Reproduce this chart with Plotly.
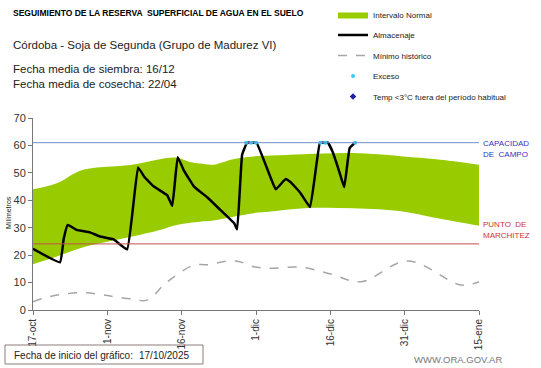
import plotly.graph_objects as go

# Days since 17-oct
band_days = [0, 4.8, 9.5, 13.5, 20, 25.6, 29, 31.7, 33.7, 36.4, 40.4, 44.5, 48, 54.6, 64.6, 74.6, 81.4, 90]
band_upper = [44, 46.2, 50.8, 52, 53, 55, 55.5, 54, 53.4, 53, 55, 56, 56.3, 56.8, 57.2, 56, 55, 53]
band_lower = [16.7, 19.5, 22.5, 24.3, 26.8, 29.2, 31, 31.8, 32.2, 32.6, 34, 35.3, 35.9, 37.1, 37.1, 35.9, 33.5, 30.7]

min_days = [0, 3.4, 9.5, 13.5, 16.2, 20, 23, 27.1, 32.5, 35.2, 39.9, 41.9, 44.5, 48, 54, 60.1, 66.2, 75.6, 86.4, 90]
min_hist = [3.0, 4.9, 6.3, 5.7, 4.9, 4.0, 3.6, 10.3, 16.4, 16.5, 18.0, 17.5, 15.8, 15.2, 15.6, 13.1, 10.3, 17.9, 9.1, 10.3]

alm_days = [0, 5.45, 6.2, 7.0, 8.8, 11.5, 13.5, 16.2, 19.0, 21.2, 22.4, 24.4, 27.1, 28.1, 29.2, 30.4, 32.5, 35.2, 37.8, 40.6, 41.2,
            42.2, 43.2, 44.2, 45.1, 48, 49, 51, 52, 54, 55.9, 57.9, 58.7, 59.5, 60.5, 61.8, 62.8, 63.9, 65]
almacenaje = [22.3, 17.4, 26, 31.0, 29.2, 28.3, 26.8, 25.8, 22.1, 52, 48.7, 45, 41.8, 38, 55.7, 51, 45, 41, 36.5, 31.6, 29.4,
              56.6, 61, 61, 61, 48, 44, 47.8, 46.6, 42.6, 37.5, 61, 61, 61, 57.5, 50.5, 44.8, 59, 61]

exceso_days = [43, 44, 45, 58, 59, 65]
exceso_vals = [61, 61, 61, 61, 61, 61]

capacidad = 61
marchitez = 24.1

tick_vals = [0, 15, 30, 45, 60, 75, 90]
tick_text = ["17-oct", "1-nov", "16-nov", "1-dic", "16-dic", "31-dic", "15-ene"]

W, H = 541, 368
L, R, T, B = 33, 62, 118, 58
PW, PH = W - L - R, H - T - B


def px(x):
    return (x - L) / PW


def py(y):
    return (H - B - y) / PH


green = "rgb(153,204,0)"
fig = go.Figure()
fig.add_trace(go.Scatter(x=band_days, y=band_lower, mode="lines", line=dict(width=0, shape="spline"),
                         showlegend=False, hoverinfo="skip", legendgroup="g0"))
fig.add_trace(go.Scatter(x=band_days, y=band_upper, mode="lines", line=dict(width=0, shape="spline"),
                         fill="tonexty", fillcolor=green, name="Intervalo Normal", legendgroup="g1"))
fig.add_trace(go.Scatter(x=alm_days, y=almacenaje, mode="lines", line=dict(color="black", width=2.5, shape="spline", smoothing=0.3),
                         name="Almacenaje", legendgroup="g2"))
fig.add_trace(go.Scatter(x=min_days, y=min_hist, mode="lines", line=dict(color="#A6A6A6", width=1.5, dash="dash", shape="spline"),
                         name="Mínimo histórico", legendgroup="g3"))
fig.add_trace(go.Scatter(x=exceso_days, y=exceso_vals, mode="markers", marker=dict(color="#33CCFF", size=4),
                         name="Exceso", legendgroup="g4"))
fig.add_trace(go.Scatter(x=[None], y=[None], mode="markers", marker=dict(color="#1F1FA0", size=5, symbol="diamond"),
                         name="Temp <3°C fuera del período habitual", legendgroup="g5"))

fig.add_shape(type="line", xref="x", yref="y", x0=0, x1=90, y0=capacidad, y1=capacidad, line=dict(color="#6F8FC8", width=1))
fig.add_shape(type="line", xref="x", yref="y", x0=0, x1=90, y0=marchitez, y1=marchitez, line=dict(color="#C0504D", width=1))

font = "Arial, Liberation Sans, sans-serif"
ann = [
    dict(x=11, y=13, text="<b>SEGUIMIENTO DE LA RESERVA  SUPERFICIAL DE AGUA EN EL SUELO</b>", size=8.5, color="black"),
    dict(x=11, y=45, text="Córdoba - Soja de Segunda (Grupo de Madurez VI)", size=11.5, color="#222"),
    dict(x=11, y=69, text="Fecha media de siembra: 16/12", size=11.5, color="#222"),
    dict(x=11, y=84, text="Fecha media de cosecha: 22/04", size=11.5, color="#222"),
    dict(x=481, y=143, text="CAPACIDAD", size=8, color="#3333BB"),
    dict(x=481, y=154, text="DE  CAMPO", size=8, color="#3333BB"),
    dict(x=481, y=224, text="PUNTO  DE", size=8, color="#CC3333"),
    dict(x=481, y=235, text="MARCHITEZ", size=8, color="#CC3333"),
    dict(x=12, y=355, text="Fecha de inicio del gráfico:", size=10, color="#222"),
    dict(x=137, y=355, text="17/10/2025", size=10, color="#222"),
    dict(x=412, y=359, text="WWW.ORA.GOV.AR", size=9.5, color="#777"),
]
for a in ann:
    fig.add_annotation(x=px(a["x"]), y=py(a["y"]), xref="paper", yref="paper", xanchor="left", yanchor="middle",
                       text=a["text"], showarrow=False, font=dict(family=font, size=a["size"], color=a["color"]))

fig.add_shape(type="rect", xref="paper", yref="paper", x0=px(5), x1=px(203), y0=py(364), y1=py(345),
              line=dict(color="#8C7B7B", width=1))
fig.add_annotation(x=px(8), y=py(213), xref="paper", yref="paper", text="Milímetros", textangle=-90, showarrow=False,
                   xanchor="center", yanchor="middle", font=dict(family=font, size=7, color="#222"))

fig.update_layout(
    width=W, height=H,
    margin=dict(l=L, r=R, t=T, b=B, autoexpand=False),
    paper_bgcolor="white", plot_bgcolor="white",
    font=dict(family=font, color="#333"),
    legend=dict(x=333 / W, y=1.0, xref="container", yref="container", xanchor="left", yanchor="top",
                font=dict(size=8, color="#222"), tracegroupgap=1.5, itemwidth=30, bgcolor="rgba(0,0,0,0)"),
    xaxis=dict(range=[0, 90], tickvals=tick_vals, ticktext=tick_text, tickangle=-90, showgrid=False, zeroline=False,
               showline=True, linecolor="#777", ticks="outside", ticklen=4, tickcolor="#777",
               tickfont=dict(size=10, color="#333")),
    yaxis=dict(range=[0, 70], tick0=0, dtick=10, showgrid=False, zeroline=False, showline=True, linecolor="#777",
               ticks="outside", ticklen=4, tickcolor="#777", tickfont=dict(size=11, color="#333")),
)

fig.write_html("out.html", config={"displayModeBar": False}, post_script="document.body.style.margin='0';")
